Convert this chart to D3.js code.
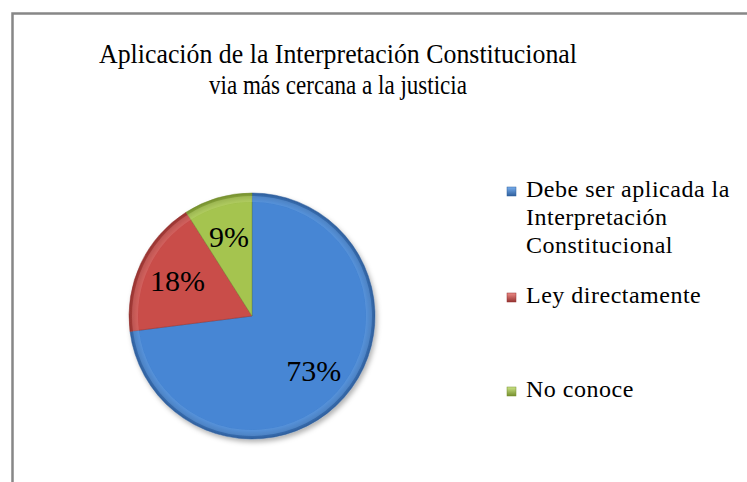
<!DOCTYPE html>
<html>
<head>
<meta charset="utf-8">
<script src="https://cdn.jsdelivr.net/npm/d3@7"></script>
<style>
  body { margin: 0; background: #fff; }
</style>
</head>
<body>
<div id="viz"></div>
<script>
const titleLines = ['Aplicación de la Interpretación Constitucional', 'via más cercana a la justicia']
const categories = ['Debe ser aplicada la Interpretación Constitucional', 'Ley directamente', 'No conoce']
const legendLines = [['Debe ser aplicada la', 'Interpretación', 'Constitucional'], ['Ley directamente'], ['No conoce']]
const values = [73, 18, 9]
const labels = ['73%', '18%', '9%']
const colors = ['#4686D4', '#C94D49', '#A5C450']
const light = ['#78AEEE', '#EC8A86', '#CBE385']
const dark = ['#2F5F9C', '#953330', '#758F2E']

const w = 747, h = 482
const serif = "'Liberation Serif', 'Times New Roman', 'DejaVu Serif', serif"

const svg = d3.select('#viz')
    .append('svg')
    .attr('width', w)
    .attr('height', h)
    .attr('viewBox', [0, 0, w, h])
    .attr('font-family', serif)

svg.append('rect').attr('width', w).attr('height', h).attr('fill', '#fff')

// chart area border (right and bottom run off the picture)
svg.append('rect')
    .attr('x', 12.5).attr('y', 13.5)
    .attr('width', 800).attr('height', 600)
    .attr('fill', 'none')
    .attr('stroke', '#878787')
    .attr('stroke-width', 2.5)

const defs = svg.append('defs')

const shadow = defs.append('filter').attr('id', 'shadow')
    .attr('x', '-20%').attr('y', '-20%').attr('width', '140%').attr('height', '140%')
shadow.append('feDropShadow')
    .attr('dx', 2).attr('dy', 3).attr('stdDeviation', 2.5)
    .attr('flood-color', '#000').attr('flood-opacity', 0.3)

const cx = 252, cy = 316, r = 123

// gradients live in the pie group's own space, centred on 0,0
colors.forEach((c, i) => {
    const g = defs.append('radialGradient')
        .attr('id', 'grad' + i)
        .attr('gradientUnits', 'userSpaceOnUse')
        .attr('cx', 0).attr('cy', 0).attr('r', r)
    g.append('stop').attr('offset', '0%').attr('stop-color', c)
    g.append('stop').attr('offset', '92%').attr('stop-color', c)
    g.append('stop').attr('offset', '100%').attr('stop-color', dark[i])

    const lg = defs.append('linearGradient')
        .attr('id', 'leg' + i)
        .attr('x1', 0).attr('y1', 0).attr('x2', 0).attr('y2', 1)
    lg.append('stop').attr('offset', '0%').attr('stop-color', light[i])
    lg.append('stop').attr('offset', '100%').attr('stop-color', dark[i])
})

// title, squeezed to the widths seen in the original
const titleWidths = [478, 258]
svg.append('g').selectAll('text')
    .data(titleLines)
    .join('text')
    .attr('x', 338)
    .attr('y', (d, i) => 63 + i * 31)
    .attr('text-anchor', 'middle')
    .attr('textLength', (d, i) => titleWidths[i])
    .attr('lengthAdjust', 'spacingAndGlyphs')
    .style('font-size', '28px')
    .text(d => d)

// pie
const pie = d3.pie().sort(null).value(d => d)
const arcs = pie(values)
const arc = d3.arc().innerRadius(0).outerRadius(r)
const bevel = d3.arc().innerRadius(r - 9).outerRadius(r - 3)
const labelArc = d3.arc().innerRadius(r * 0.67).outerRadius(r * 0.67)

const pg = svg.append('g')
    .attr('transform', `translate(${cx}, ${cy})`)

pg.append('g')
    .attr('filter', 'url(#shadow)')
    .selectAll('path')
    .data(arcs)
    .join('path')
    .attr('d', arc)
    .attr('fill', (d, i) => `url(#grad${i})`)
    .attr('stroke', (d, i) => dark[i])
    .attr('stroke-width', 0.5)

// soft highlight along the rim
pg.append('g').selectAll('path')
    .data(arcs)
    .join('path')
    .attr('d', bevel)
    .attr('fill', (d, i) => light[i])
    .attr('opacity', 0.35)

pg.append('g').selectAll('text')
    .data(arcs)
    .join('text')
    .attr('transform', d => `translate(${labelArc.centroid(d)})`)
    .attr('text-anchor', 'middle')
    .attr('dy', '0.35em')
    .style('font-size', '30px')
    .text((d, i) => labels[i])

// legend
const legendY = [197, 303, 397]
const lg = svg.append('g')
const items = lg.selectAll('g')
    .data(categories)
    .join('g')
    .attr('transform', (d, i) => `translate(507, ${legendY[i]})`)

items.append('rect')
    .attr('y', -10)
    .attr('width', 9).attr('height', 9)
    .attr('fill', (d, i) => `url(#leg${i})`)
    .attr('stroke', (d, i) => dark[i])
    .attr('stroke-width', 0.5)

items.append('text')
    .attr('x', 19)
    .style('font-size', '24px')
    .style('letter-spacing', '0.5px')
    .selectAll('tspan')
    .data((d, i) => legendLines[i])
    .join('tspan')
    .attr('x', 19)
    .attr('y', (d, j) => j * 28)
    .text(d => d)
</script>
</body>
</html>
